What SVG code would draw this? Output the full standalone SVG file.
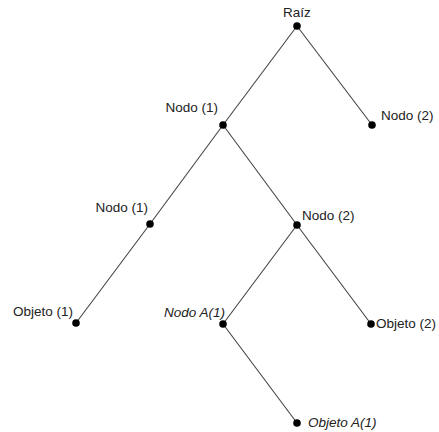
<svg xmlns="http://www.w3.org/2000/svg" width="439" height="432" viewBox="0 0 439 432">
<style>
.e{stroke:#444;stroke-width:1.1;fill:none}
.d{fill:#000}
.t{font-family:"Liberation Sans",Arial,sans-serif;font-size:13.5px;fill:#222}
.i{font-style:italic}
</style>
<rect width="439" height="432" fill="#fff"/>
<g id="connectors">
<line class="e" x1="297" y1="26" x2="223" y2="125"/>
<line class="e" x1="297" y1="26" x2="372" y2="125"/>
<line class="e" x1="223" y1="125" x2="150" y2="224"/>
<line class="e" x1="223" y1="125" x2="297" y2="225"/>
<line class="e" x1="150" y1="224" x2="76" y2="323"/>
<line class="e" x1="297" y1="225" x2="223" y2="324"/>
<line class="e" x1="297" y1="225" x2="371" y2="324"/>
<line class="e" x1="223" y1="324" x2="297" y2="423"/>
</g>
<g id="raiz"><circle class="d" cx="297" cy="26" r="3.8"/><text class="t" x="297" y="17" text-anchor="middle">Raíz</text></g>
<g id="nodo2a"><circle class="d" cx="372" cy="125" r="3.8"/><text class="t" x="381" y="120">Nodo (2)</text></g>
<g id="nodo1a"><circle class="d" cx="223" cy="125" r="3.8"/><text class="t" x="218" y="112" text-anchor="end">Nodo (1)</text></g>
<g id="nodo1b"><circle class="d" cx="150" cy="224" r="3.8"/><text class="t" x="148" y="212" text-anchor="end">Nodo (1)</text></g>
<g id="nodo2b"><circle class="d" cx="297" cy="225" r="3.8"/><text class="t" x="302" y="220">Nodo (2)</text></g>
<g id="objeto1"><circle class="d" cx="76" cy="323" r="3.8"/><text class="t" x="73" y="316" text-anchor="end">Objeto (1)</text></g>
<g id="nodoA1"><circle class="d" cx="223" cy="324" r="3.8"/><text class="t i" x="225" y="317" text-anchor="end">Nodo A(1)</text></g>
<g id="objeto2"><circle class="d" cx="371" cy="324" r="3.8"/><text class="t" x="376" y="328">Objeto (2)</text></g>
<g id="objetoA1"><circle class="d" cx="297" cy="423" r="3.8"/><text class="t i" x="308" y="427">Objeto A(1)</text></g>
</svg>
